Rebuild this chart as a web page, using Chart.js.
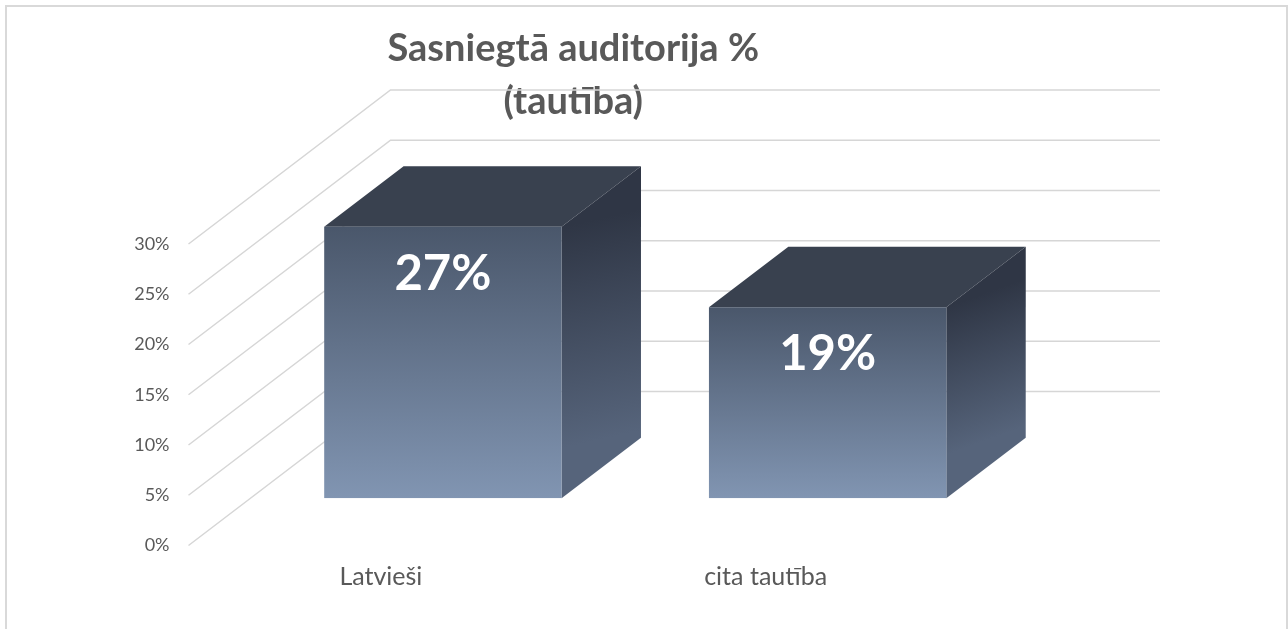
<!DOCTYPE html>
<html>
<head>
<meta charset="utf-8">
<script src="https://cdn.jsdelivr.net/npm/chart.js@4/dist/chart.umd.min.js"></script>
<style>
  body { margin: 0; background: #fff; }
  #wrap { position: relative; width: 1288px; height: 629px; overflow: hidden; }
  #frame { position: absolute; left: 5px; top: 5px; width: 1283px; height: 700px; border: 2px solid #d9d9d9; box-sizing: border-box; pointer-events: none; }
  canvas { position: absolute; left: 0; top: 0; }
</style>
</head>
<body>
<div id="wrap">
  <canvas id="chart" width="1288" height="629"></canvas>
  <div id="frame"></div>
</div>
<script>
var categories = ['Latvieši', 'cita tautība'];
var reachValues = [27, 19];
var valueLabels = ['27%', '19%'];
var yTickValues = [0, 5, 10, 15, 20, 25, 30];
var titleLines = ['Sasniegtā auditorija %', '(tautība)'];

var FONT = 'Lato, "Open Sans", sans-serif';
var TEXT_COLOR = '#595959';

// 3D projection of the wall depth (front edge -> back wall)
var DEPTH_X = 202, DEPTH_Y = -154;
var BAR_FRONT = 0.307, BAR_BACK = 0.70;

function frontShift() {
    return { x: BAR_FRONT * DEPTH_X, y: BAR_FRONT * DEPTH_Y };
}

var box3d = {
    id: 'box3d',
    beforeDatasetsDraw: function(chart) {
        var ctx = chart.ctx, area = chart.chartArea, yScale = chart.scales.y;
        ctx.save();
        ctx.strokeStyle = '#d6d6d6';
        ctx.lineWidth = 1.5;
        yScale.ticks.forEach(function(t) {
            var py = yScale.getPixelForValue(t.value);
            ctx.beginPath();
            ctx.moveTo(area.left, py);
            ctx.lineTo(area.left + DEPTH_X, py + DEPTH_Y);
            ctx.lineTo(area.right + DEPTH_X, py + DEPTH_Y);
            ctx.stroke();
        });

        // top and right faces of each bar
        var s = frontShift();
        var dx = (BAR_BACK - BAR_FRONT) * DEPTH_X, dy = (BAR_BACK - BAR_FRONT) * DEPTH_Y;
        var meta = chart.getDatasetMeta(0);
        meta.data.forEach(function(bar) {
            var p = bar.getProps(['x', 'y', 'base', 'width'], true);
            var l = p.x - p.width / 2 + s.x, r = p.x + p.width / 2 + s.x;
            var t = p.y + s.y, b = p.base + s.y;

            ctx.fillStyle = '#39414f';
            ctx.beginPath();
            ctx.moveTo(l, t);
            ctx.lineTo(l + dx, t + dy);
            ctx.lineTo(r + dx, t + dy);
            ctx.lineTo(r, t);
            ctx.closePath();
            ctx.fill();

            var g = ctx.createLinearGradient(r, t, r + dx * 0.6, b + dy);
            g.addColorStop(0, '#2f3645');
            g.addColorStop(1, '#56647b');
            ctx.fillStyle = g;
            ctx.beginPath();
            ctx.moveTo(r, t);
            ctx.lineTo(r + dx, t + dy);
            ctx.lineTo(r + dx, b + dy);
            ctx.lineTo(r, b);
            ctx.closePath();
            ctx.fill();
        });
        ctx.restore();
    },
    beforeDatasetDraw: function(chart) {
        var s = frontShift();
        chart.ctx.save();
        chart.ctx.translate(s.x, s.y);
    },
    afterDatasetDraw: function(chart) {
        chart.ctx.restore();
    },
    afterDatasetsDraw: function(chart) {
        var ctx = chart.ctx, s = frontShift();
        var meta = chart.getDatasetMeta(0);
        ctx.save();
        ctx.fillStyle = '#ffffff';
        ctx.font = 'bold 49px ' + FONT;
        ctx.textAlign = 'center';
        ctx.textBaseline = 'middle';
        meta.data.forEach(function(bar, i) {
            var p = bar.getProps(['x', 'y'], true);
            ctx.fillText(valueLabels[i], p.x + s.x, p.y + s.y + 47);
        });
        ctx.restore();
    }
};

var ctx = document.getElementById('chart').getContext('2d');
new Chart(ctx, {
    type: 'bar',
    data: {
        labels: categories,
        datasets: [{
            data: reachValues,
            borderWidth: 0,
            barPercentage: 0.617,
            categoryPercentage: 1,
            backgroundColor: function(context) {
                var chart = context.chart;
                if (!chart.chartArea) {
                    return '#64748c';
                }
                var yScale = chart.scales.y;
                var top = yScale.getPixelForValue(context.raw);
                var base = yScale.getPixelForValue(0);
                var g = chart.ctx.createLinearGradient(0, top, 0, base);
                g.addColorStop(0, '#4a576b');
                g.addColorStop(1, '#8195b2');
                return g;
            }
        }]
    },
    options: {
        responsive: false,
        animation: false,
        devicePixelRatio: 1,
        layout: { padding: { left: 0, right: 330, top: 0, bottom: 0 } },
        plugins: {
            legend: { display: false },
            tooltip: { enabled: false },
            title: {
                display: true,
                text: titleLines,
                fullSize: false,
                color: TEXT_COLOR,
                font: { family: FONT, size: 38, weight: 'bold', lineHeight: '53px' },
                padding: { top: 22, bottom: 116 }
            }
        },
        scales: {
            x: {
                grid: { display: false, drawTicks: false },
                border: { display: false },
                ticks: { color: TEXT_COLOR, font: { family: FONT, size: 25 }, padding: 16 },
                afterFit: function(scale) { scale.height = 83.5; }
            },
            y: {
                min: 0,
                max: 30,
                afterBuildTicks: function(scale) {
                    scale.ticks = yTickValues.map(function(v) { return { value: v }; });
                },
                grid: { display: false, drawTicks: false },
                border: { display: false },
                ticks: {
                    color: TEXT_COLOR,
                    font: { family: FONT, size: 18 },
                    padding: 19,
                    callback: function(v) { return v + '%'; }
                },
                afterFit: function(scale) { scale.width = 188.5; }
            }
        }
    },
    plugins: [box3d]
});
</script>
</body>
</html>
